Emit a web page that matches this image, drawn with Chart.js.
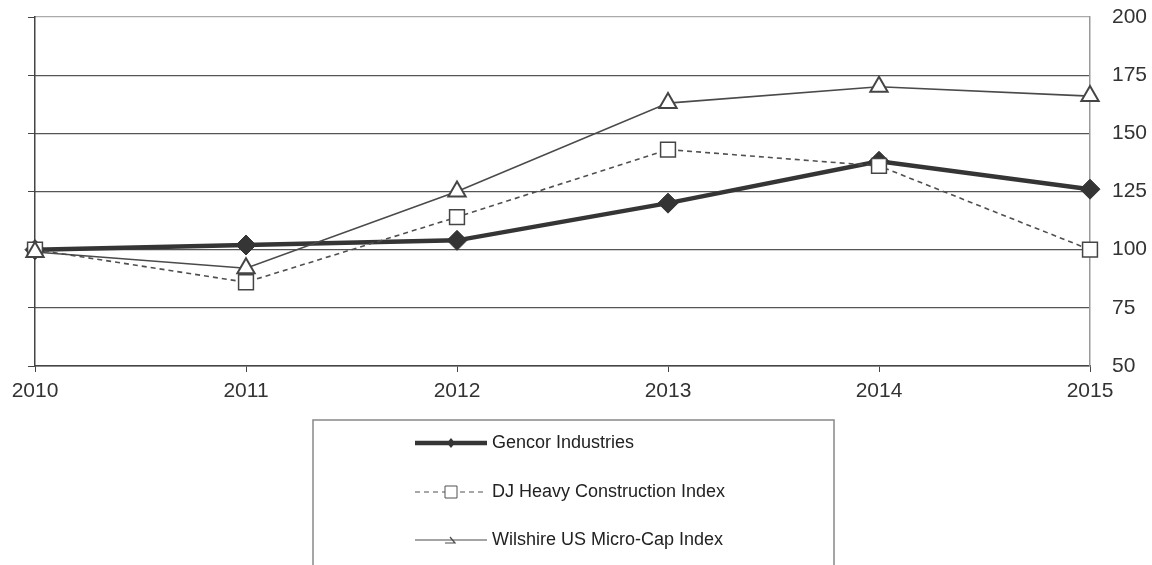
<!DOCTYPE html>
<html>
<head>
<meta charset="utf-8">
<script src="https://cdn.jsdelivr.net/npm/chart.js@4"></script>
<style>
  html, body { margin: 0; padding: 0; background: #fff; }
  #wrap { width: 1152px; height: 565px; position: relative; }
</style>
</head>
<body>
<div id="wrap"><canvas id="perf-chart"></canvas></div>
<script>
// Cumulative total return, base 100 in 2010
const years = ['2010', '2011', '2012', '2013', '2014', '2015'];
const gencorValues = [100, 102, 104, 120, 138, 126];
const djHeavyValues = [100, 86, 114, 143, 136, 100];
const wilshireValues = [99, 92, 125, 163, 170, 166];
const seriesNames = ['Gencor Industries', 'DJ Heavy Construction Index', 'Wilshire US Micro-Cap Index'];

const fontFace = "'Liberation Sans', Arial, sans-serif";
const axisDark = '#454545';
const gridColor = '#555555';

// Legend box drawn under the plot, like the printed report
const boxLegend = {
    id: 'boxLegend',
    afterDraw(chart) {
        const ctx = chart.ctx;
        ctx.save();
        ctx.strokeStyle = '#888';
        ctx.lineWidth = 1.5;
        ctx.strokeRect(313, 420, 521, 160);

        const rows = [443, 492, 540];
        chart.data.datasets.forEach((ds, i) => {
            const y = rows[i];
            ctx.strokeStyle = ds.borderColor;
            ctx.lineWidth = i === 0 ? 4.5 : 1.2;
            ctx.setLineDash(ds.borderDash || []);
            ctx.beginPath();
            ctx.moveTo(415, y);
            ctx.lineTo(487, y);
            ctx.stroke();
            ctx.setLineDash([]);

            // small marker
            const cx = 451;
            ctx.beginPath();
            if (i === 0) {
                ctx.moveTo(cx, y - 5); ctx.lineTo(cx + 4, y); ctx.lineTo(cx, y + 5); ctx.lineTo(cx - 4, y);
                ctx.closePath();
                ctx.fillStyle = ds.borderColor;
                ctx.fill();
            } else if (i === 1) {
                ctx.rect(cx - 6, y - 6, 12, 12);
                ctx.fillStyle = '#fff';
                ctx.fill();
                ctx.lineWidth = 1;
                ctx.stroke();
            } else {
                ctx.moveTo(cx - 6, y + 3); ctx.lineTo(cx + 4, y + 3); ctx.lineTo(cx - 1, y - 3);
                ctx.lineWidth = 1.2;
                ctx.stroke();
            }

            ctx.fillStyle = '#222';
            ctx.font = '18px ' + fontFace;
            ctx.textBaseline = 'middle';
            ctx.textAlign = 'left';
            ctx.fillText(seriesNames[i], 492, y);
        });
        ctx.restore();
    }
};

// keep the plot edges where the report has them
const fixY = (w) => (scale) => {
    scale.width = w;
    scale.paddingTop = 0;
    scale.paddingBottom = 0;
};

const ctx = document.getElementById('perf-chart').getContext('2d');
new Chart(ctx, {
    type: 'line',
    data: {
        labels: years,
        datasets: [{
            label: seriesNames[0],
            data: gencorValues,
            borderColor: '#353535',
            backgroundColor: '#353535',
            borderWidth: 4.5,
            pointStyle: 'rectRot',
            pointRadius: 10,
            pointBorderWidth: 1,
            pointBackgroundColor: '#353535',
            yAxisID: 'y',
            order: 3,
            tension: 0
        }, {
            label: seriesNames[1],
            data: djHeavyValues,
            borderColor: '#505050',
            borderWidth: 1.6,
            borderDash: [5, 4],
            pointStyle: 'rect',
            pointRadius: 10.5,
            pointBorderWidth: 1.5,
            pointBackgroundColor: '#fff',
            pointBorderColor: '#454545',
            yAxisID: 'y',
            order: 2,
            tension: 0
        }, {
            label: seriesNames[2],
            data: wilshireValues,
            borderColor: '#4a4a4a',
            borderWidth: 1.6,
            pointStyle: 'triangle',
            pointRadius: 10,
            pointBorderWidth: 2,
            pointBackgroundColor: '#fff',
            pointBorderColor: '#454545',
            yAxisID: 'y',
            order: 1,
            tension: 0
        }]
    },
    options: {
        responsive: true,
        maintainAspectRatio: false,
        animation: false,
        layout: { padding: { top: 17, left: 0, right: 0, bottom: 0 } },
        plugins: {
            legend: { display: false },
            tooltip: { enabled: false }
        },
        scales: {
            x: {
                type: 'category',
                offset: false,
                afterFit: (scale) => { scale.height = 199; },
                grid: { drawOnChartArea: false, color: axisDark, tickLength: 6 },
                border: { color: axisDark, width: 1.5 },
                ticks: {
                    color: '#333',
                    font: { family: fontFace, size: 21 },
                    padding: 7,
                    maxRotation: 0,
                    autoSkip: false
                }
            },
            y: {
                position: 'right',
                min: 50,
                max: 200,
                afterFit: fixY(62),
                grid: {
                    color: (c) => c.tick && c.tick.value === 200 ? '#aaaaaa' : gridColor,
                    lineWidth: 1.2,
                    drawTicks: false
                },
                border: { color: '#999', width: 1.5 },
                ticks: {
                    stepSize: 25,
                    color: '#333',
                    font: { family: fontFace, size: 21 },
                    padding: 22
                }
            },
            yLeft: {
                position: 'left',
                min: 50,
                max: 200,
                afterFit: fixY(35),
                grid: { drawOnChartArea: false, color: axisDark, tickLength: 7 },
                border: { color: axisDark, width: 1.5 },
                ticks: { stepSize: 25, display: false }
            }
        }
    },
    plugins: [boxLegend]
});
</script>
</body>
</html>
